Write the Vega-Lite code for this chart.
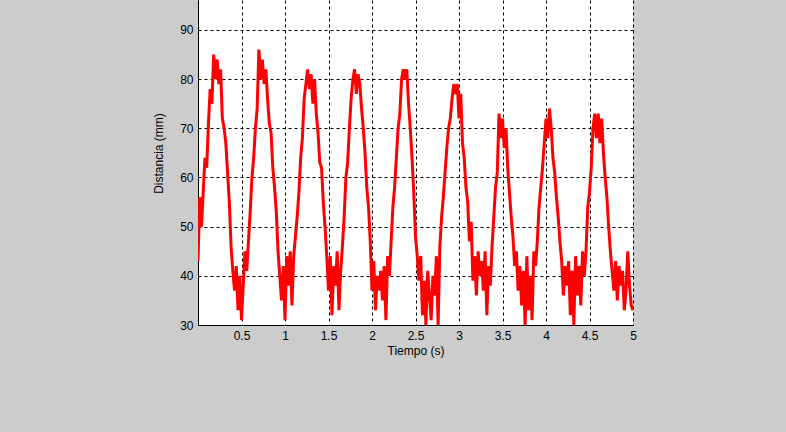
{
  "$schema": "https://vega.github.io/schema/vega-lite/v6.json",
  "width": 435,
  "height": 325,
  "autosize": {"type": "none"},
  "padding": {"left": 198, "top": 0, "right": 153, "bottom": 107},
  "background": "#cccccc",
  "config": {
    "view": {"fill": "white", "stroke": null},
    "font": "Liberation Sans"
  },
  "data": {"values": [
    {"t":0.00,"d":43},{"t":0.02,"d":56},{"t":0.04,"d":50},{"t":0.06,"d":57},{"t":0.08,"d":64},{"t":0.10,"d":62},{"t":0.12,"d":71},{"t":0.14,"d":78},{"t":0.16,"d":75},{"t":0.18,"d":85},
    {"t":0.20,"d":80},{"t":0.22,"d":84},{"t":0.24,"d":79},{"t":0.26,"d":82},{"t":0.28,"d":72},{"t":0.30,"d":70},{"t":0.32,"d":67},{"t":0.34,"d":61},{"t":0.36,"d":55},{"t":0.38,"d":46},
    {"t":0.40,"d":41},{"t":0.42,"d":37},{"t":0.44,"d":42},{"t":0.46,"d":33},{"t":0.48,"d":40},{"t":0.50,"d":31},{"t":0.52,"d":38},{"t":0.54,"d":45},{"t":0.56,"d":41},{"t":0.58,"d":47},
    {"t":0.60,"d":53},{"t":0.62,"d":60},{"t":0.64,"d":64},{"t":0.66,"d":70},{"t":0.68,"d":74},{"t":0.70,"d":86},{"t":0.72,"d":80},{"t":0.74,"d":84},{"t":0.76,"d":79},{"t":0.78,"d":82},
    {"t":0.80,"d":76},{"t":0.82,"d":71},{"t":0.84,"d":69},{"t":0.86,"d":62},{"t":0.88,"d":58},{"t":0.90,"d":53},{"t":0.92,"d":45},{"t":0.94,"d":40},{"t":0.96,"d":35},{"t":0.98,"d":42},
    {"t":1.00,"d":31},{"t":1.02,"d":44},{"t":1.04,"d":38},{"t":1.06,"d":45},{"t":1.08,"d":34},{"t":1.10,"d":44},{"t":1.12,"d":48},{"t":1.14,"d":52},{"t":1.16,"d":57},{"t":1.18,"d":64},
    {"t":1.20,"d":68},{"t":1.22,"d":76},{"t":1.24,"d":79},{"t":1.26,"d":82},{"t":1.28,"d":78},{"t":1.30,"d":81},{"t":1.32,"d":75},{"t":1.34,"d":80},{"t":1.36,"d":73},{"t":1.38,"d":69},
    {"t":1.40,"d":63},{"t":1.42,"d":62},{"t":1.44,"d":55},{"t":1.46,"d":50},{"t":1.48,"d":44},{"t":1.50,"d":37},{"t":1.52,"d":44},{"t":1.54,"d":32},{"t":1.56,"d":42},{"t":1.58,"d":38},
    {"t":1.60,"d":45},{"t":1.62,"d":33},{"t":1.64,"d":41},{"t":1.66,"d":46},{"t":1.68,"d":52},{"t":1.70,"d":60},{"t":1.72,"d":63},{"t":1.74,"d":70},{"t":1.76,"d":76},{"t":1.78,"d":80},
    {"t":1.80,"d":82},{"t":1.82,"d":77},{"t":1.84,"d":81},{"t":1.86,"d":79},{"t":1.88,"d":74},{"t":1.90,"d":70},{"t":1.92,"d":65},{"t":1.94,"d":58},{"t":1.96,"d":54},{"t":1.98,"d":47},
    {"t":2.00,"d":37},{"t":2.02,"d":43},{"t":2.04,"d":33},{"t":2.06,"d":40},{"t":2.08,"d":37},{"t":2.10,"d":41},{"t":2.12,"d":35},{"t":2.14,"d":42},{"t":2.16,"d":31},{"t":2.18,"d":44},
    {"t":2.20,"d":40},{"t":2.22,"d":47},{"t":2.24,"d":54},{"t":2.26,"d":58},{"t":2.28,"d":64},{"t":2.30,"d":70},{"t":2.32,"d":73},{"t":2.34,"d":80},{"t":2.36,"d":82},{"t":2.38,"d":80},
    {"t":2.40,"d":82},{"t":2.42,"d":75},{"t":2.44,"d":70},{"t":2.46,"d":64},{"t":2.48,"d":57},{"t":2.50,"d":48},{"t":2.52,"d":44},{"t":2.54,"d":39},{"t":2.56,"d":44},{"t":2.58,"d":32},
    {"t":2.60,"d":39},{"t":2.62,"d":30},{"t":2.64,"d":41},{"t":2.66,"d":36},{"t":2.68,"d":31},{"t":2.70,"d":40},{"t":2.72,"d":36},{"t":2.74,"d":44},{"t":2.76,"d":30},{"t":2.78,"d":46},
    {"t":2.80,"d":52},{"t":2.82,"d":56},{"t":2.84,"d":61},{"t":2.86,"d":66},{"t":2.88,"d":70},{"t":2.90,"d":72},{"t":2.92,"d":76},{"t":2.94,"d":79},{"t":2.96,"d":77},{"t":2.98,"d":79},
    {"t":3.00,"d":72},{"t":3.02,"d":77},{"t":3.04,"d":67},{"t":3.06,"d":64},{"t":3.08,"d":58},{"t":3.10,"d":55},{"t":3.12,"d":47},{"t":3.14,"d":51},{"t":3.16,"d":39},{"t":3.18,"d":44},
    {"t":3.20,"d":36},{"t":3.22,"d":45},{"t":3.24,"d":40},{"t":3.26,"d":43},{"t":3.28,"d":37},{"t":3.30,"d":45},{"t":3.32,"d":32},{"t":3.34,"d":42},{"t":3.36,"d":38},{"t":3.38,"d":46},
    {"t":3.40,"d":52},{"t":3.42,"d":58},{"t":3.44,"d":61},{"t":3.46,"d":73},{"t":3.48,"d":68},{"t":3.50,"d":72},{"t":3.52,"d":66},{"t":3.54,"d":70},{"t":3.56,"d":62},{"t":3.58,"d":57},
    {"t":3.60,"d":52},{"t":3.62,"d":48},{"t":3.64,"d":42},{"t":3.66,"d":45},{"t":3.68,"d":37},{"t":3.70,"d":42},{"t":3.72,"d":34},{"t":3.74,"d":41},{"t":3.76,"d":30},{"t":3.78,"d":44},
    {"t":3.80,"d":33},{"t":3.82,"d":40},{"t":3.84,"d":31},{"t":3.86,"d":45},{"t":3.88,"d":42},{"t":3.90,"d":47},{"t":3.92,"d":54},{"t":3.94,"d":58},{"t":3.96,"d":62},{"t":3.98,"d":67},
    {"t":4.00,"d":72},{"t":4.02,"d":68},{"t":4.04,"d":74},{"t":4.06,"d":70},{"t":4.08,"d":64},{"t":4.10,"d":61},{"t":4.12,"d":56},{"t":4.14,"d":52},{"t":4.16,"d":47},{"t":4.18,"d":43},
    {"t":4.20,"d":36},{"t":4.22,"d":42},{"t":4.24,"d":38},{"t":4.26,"d":43},{"t":4.28,"d":32},{"t":4.30,"d":41},{"t":4.32,"d":30},{"t":4.34,"d":44},{"t":4.36,"d":36},{"t":4.38,"d":42},
    {"t":4.40,"d":34},{"t":4.42,"d":45},{"t":4.44,"d":40},{"t":4.46,"d":45},{"t":4.48,"d":54},{"t":4.50,"d":57},{"t":4.52,"d":62},{"t":4.54,"d":70},{"t":4.56,"d":73},{"t":4.58,"d":68},
    {"t":4.60,"d":73},{"t":4.62,"d":67},{"t":4.64,"d":72},{"t":4.66,"d":65},{"t":4.68,"d":60},{"t":4.70,"d":56},{"t":4.72,"d":50},{"t":4.74,"d":45},{"t":4.76,"d":41},{"t":4.78,"d":37},
    {"t":4.80,"d":43},{"t":4.82,"d":35},{"t":4.84,"d":42},{"t":4.86,"d":38},{"t":4.88,"d":41},{"t":4.90,"d":33},{"t":4.92,"d":37},{"t":4.94,"d":45},{"t":4.96,"d":38},{"t":4.98,"d":34},
    {"t":5.00,"d":33}
  ]},
  "mark": {"type": "line", "color": "#ff0000", "strokeWidth": 3, "clip": true, "strokeJoin": "miter"},
  "encoding": {
    "x": {
      "field": "t", "type": "quantitative",
      "scale": {"domain": [0, 5], "nice": false, "zero": false},
      "axis": {
        "title": "Tiempo (s)",
        "values": [0, 0.5, 1, 1.5, 2, 2.5, 3, 3.5, 4, 4.5, 5],
        "format": "~g",
        "labelExpr": "datum.value == 0 ? '' : datum.label",
        "labelFont": "Liberation Sans", "labelFontSize": 12, "labelColor": "#000000", "labelPadding": 5,
        "labelFlush": false,
        "ticks": false,
        "domainColor": "#000000", "domainWidth": 1,
        "grid": true, "gridColor": "#000000", "gridDash": [3, 3], "gridWidth": 1, "gridOpacity": 1,
        "titleFont": "Liberation Sans", "titleFontSize": 12, "titleFontWeight": "normal", "titleColor": "#000000", "titlePadding": 4
      }
    },
    "y": {
      "field": "d", "type": "quantitative",
      "scale": {"domain": [30, 96.1], "nice": false, "zero": false},
      "axis": {
        "title": "Distancia (mm)",
        "values": [30, 40, 50, 60, 70, 80, 90],
        "labelFont": "Liberation Sans", "labelFontSize": 12, "labelColor": "#000000", "labelPadding": 5,
        "labelFlush": false,
        "ticks": false,
        "domainColor": "#000000", "domainWidth": 1,
        "grid": true, "gridColor": "#000000", "gridDash": [3, 3], "gridWidth": 1, "gridOpacity": 1,
        "titleFont": "Liberation Sans", "titleFontSize": 12, "titleFontWeight": "normal", "titleColor": "#000000", "titlePadding": 14,
        "titleY": 153
      }
    }
  }
}
